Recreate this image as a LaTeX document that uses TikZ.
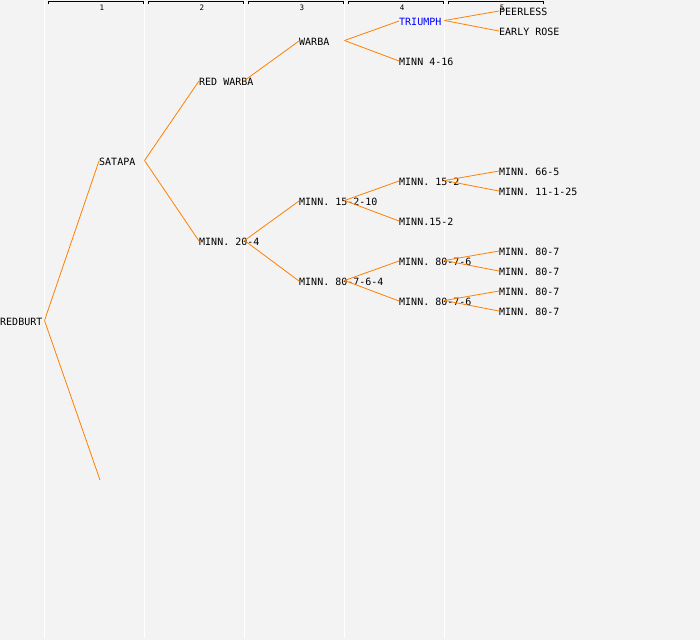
\documentclass[tikz,border=0pt]{standalone}
\usepackage{fontspec}
\setmonofont{DejaVu Sans Mono}
\usepackage{tikz}
\usetikzlibrary{positioning, calc}
\definecolor{pedorange}{RGB}{255,128,0}
\definecolor{pedback}{RGB}{243,243,243}

\begin{document}
\begin{tikzpicture}[x=1pt, y=-1pt,
        person/.style={anchor=west, inner sep=0pt, font=\ttfamily\fontsize{10}{10}\selectfont},
        link/.style={draw=pedorange, line width=.8pt},
        gen/.style={font=\ttfamily\fontsize{7.5}{7.5}\selectfont, inner sep=0pt}]
    % background and generation columns
    \fill[pedback] (0,0) rectangle (700,640);
    \useasboundingbox (0,0) rectangle (700,640);
    \foreach \i in {1,...,5} {
        \coordinate (col\i) at ({44.5+100*(\i-1)},0);
        \draw[white, line width=1pt] (col\i) -- ++(0,638);
        \draw[black, line width=.9pt] ({48+100*(\i-1)},4) -- ++(0,-3) -- ++(95,0) -- ++(0,3);
        \node[gen] (g\i) at ({102+100*(\i-1)},7.5) {\i};
    }
    % pedigree
    \node[person] (redburt)   at (0,322)   {REDBURT};
    \node[person] (satapa)    at (99,162)  {SATAPA};
    \coordinate   (redburtdam) at (100,481);
    \node[person] (redwarba)  at (199,82)  {RED WARBA};
    \node[person] (minn204)   at (199,242) {MINN. 20-4};
    \node[person] (warba)     at (299,42)  {WARBA};
    \node[person] (minn15210) at (299,202) {MINN. 15-2-10};
    \node[person] (minn80764) at (299,282) {MINN. 80-7-6-4};
    \node[person, text=blue] (triumph) at (399,22) {TRIUMPH};
    \node[person] (minn416)   at (399,62)  {MINN 4-16};
    \node[person] (minn152a)  at (399,182) {MINN. 15-2};
    \node[person] (minn152b)  at (399,222) {MINN.15-2};
    \node[person] (minn8076a) at (399,262) {MINN. 80-7-6};
    \node[person] (minn8076b) at (399,302) {MINN. 80-7-6};
    \node[person] (peerless)  at (499,12)  {PEERLESS};
    \node[person] (earlyrose) at (499,32)  {EARLY ROSE};
    \node[person] (minn665)   at (499,172) {MINN. 66-5};
    \node[person] (minn11125) at (499,192) {MINN. 11-1-25};
    \node[person] (minn807a)  at (499,252) {MINN. 80-7};
    \node[person] (minn807b)  at (499,272) {MINN. 80-7};
    \node[person] (minn807c)  at (499,292) {MINN. 80-7};
    \node[person] (minn807d)  at (499,312) {MINN. 80-7};
    \foreach \p/\c/\g in {redburt/satapa/1, redburt/redburtdam/1,
            satapa/redwarba/2, satapa/minn204/2,
            redwarba/warba/3, minn204/minn15210/3, minn204/minn80764/3,
            warba/triumph/4, warba/minn416/4, minn15210/minn152a/4, minn15210/minn152b/4,
            minn80764/minn8076a/4, minn80764/minn8076b/4,
            triumph/peerless/5, triumph/earlyrose/5, minn152a/minn665/5, minn152a/minn11125/5,
            minn8076a/minn807a/5, minn8076a/minn807b/5, minn8076b/minn807c/5, minn8076b/minn807d/5}
        \draw[link] ([yshift=1.5pt]\p.west -| col\g) -- ([yshift=1pt]\c.west);
\end{tikzpicture}
\end{document}
